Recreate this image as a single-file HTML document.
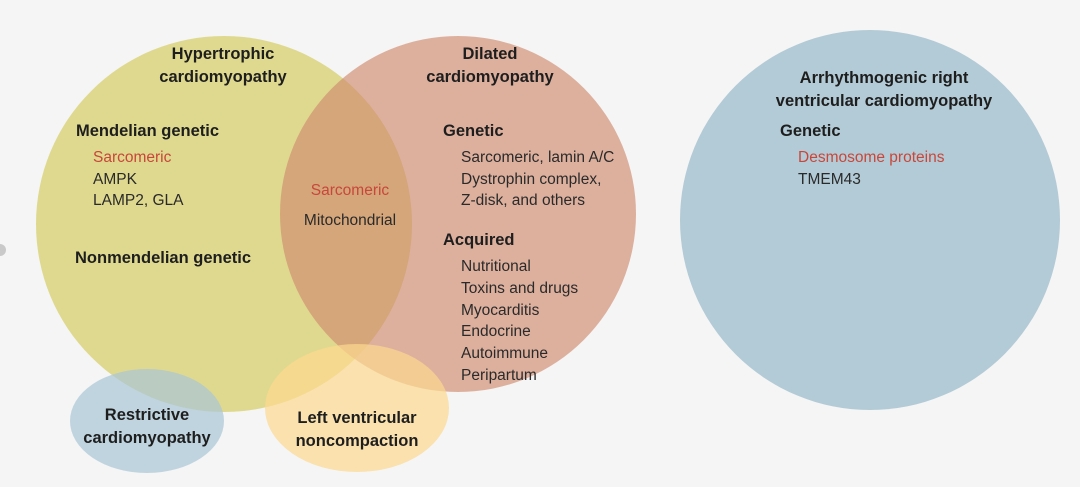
<!DOCTYPE html>
<html><head><meta charset="utf-8"><style>
html,body{margin:0;padding:0;background:#f5f5f5;}
svg{display:block}
text{font-family:"Liberation Sans",sans-serif;font-size:15.5px;fill:#2a2a2a}
.b{font-weight:bold;font-size:16.5px;fill:#1e1e1e}
.r{fill:#c8473a}
</style></head><body>
<svg width="1080" height="487" viewBox="0 0 1080 487" xmlns="http://www.w3.org/2000/svg">
<rect width="1080" height="487" fill="#f5f5f5"/>
<circle cx="0" cy="250" r="6" fill="#c9c9c9"/>
<circle cx="224" cy="224" r="188" fill="#dfd98f"/>
<circle cx="458" cy="214" r="178" fill="#cf8a6f" fill-opacity="0.65"/>
<circle cx="870" cy="220" r="190" fill="#b3cbd6"/>
<ellipse cx="147" cy="421" rx="77" ry="52" fill="#aac6d6" fill-opacity="0.7"/>
<ellipse cx="357" cy="408" rx="92" ry="64" fill="#fcd98f" fill-opacity="0.7"/>

<text class="b" x="223" y="59" text-anchor="middle">Hypertrophic</text>
<text class="b" x="223" y="82" text-anchor="middle">cardiomyopathy</text>
<text class="b" x="76" y="136">Mendelian genetic</text>
<text class="r" x="93" y="162">Sarcomeric</text>
<text x="93" y="184">AMPK</text>
<text x="93" y="205">LAMP2, GLA</text>
<text class="b" x="75" y="263">Nonmendelian genetic</text>

<text class="r" x="350" y="195" text-anchor="middle">Sarcomeric</text>
<text x="350" y="225" text-anchor="middle">Mitochondrial</text>

<text class="b" x="490" y="59" text-anchor="middle">Dilated</text>
<text class="b" x="490" y="82" text-anchor="middle">cardiomyopathy</text>
<text class="b" x="443" y="136">Genetic</text>
<text x="461" y="162">Sarcomeric, lamin A/C</text>
<text x="461" y="184">Dystrophin complex,</text>
<text x="461" y="205">Z-disk, and others</text>
<text class="b" x="443" y="245">Acquired</text>
<text x="461" y="271">Nutritional</text>
<text x="461" y="293">Toxins and drugs</text>
<text x="461" y="315">Myocarditis</text>
<text x="461" y="336">Endocrine</text>
<text x="461" y="358">Autoimmune</text>
<text x="461" y="380">Peripartum</text>

<text class="b" x="884" y="83" text-anchor="middle">Arrhythmogenic right</text>
<text class="b" x="884" y="106" text-anchor="middle">ventricular cardiomyopathy</text>
<text class="b" x="780" y="136">Genetic</text>
<text class="r" x="798" y="162">Desmosome proteins</text>
<text x="798" y="184">TMEM43</text>

<text class="b" x="147" y="420" text-anchor="middle">Restrictive</text>
<text class="b" x="147" y="443" text-anchor="middle">cardiomyopathy</text>
<text class="b" x="357" y="423" text-anchor="middle">Left ventricular</text>
<text class="b" x="357" y="446" text-anchor="middle">noncompaction</text>
</svg>
</body></html>
